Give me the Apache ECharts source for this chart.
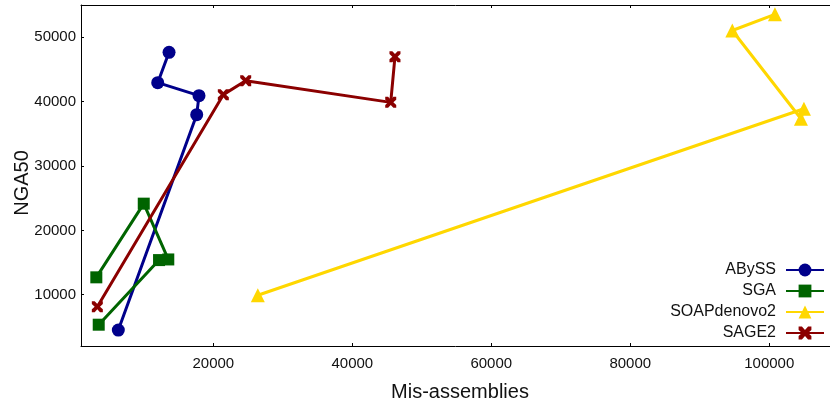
<!DOCTYPE html>
<html>
<head>
<meta charset="utf-8">
<script src="https://cdn.jsdelivr.net/npm/echarts@6/dist/echarts.min.js"></script>
<style>
html,body{margin:0;padding:0;background:#fff;}
#chart{width:830px;height:406px;}
</style>
</head>
<body>
<div id="chart"></div>
<script>
var seriesNames = ['ABySS', 'SGA', 'SOAPdenovo2', 'SAGE2'];
var abyssX = [6330, 17610, 17940, 12000, 13630];
var abyssY = [4510, 37980, 40930, 42950, 47670];
var sgaX = [3165, 9990, 13520, 12190, 3510];
var sgaY = [12700, 24150, 15480, 15380, 5340];
var soapX = [26400, 104990, 104560, 94680, 100820];
var soapY = [9920, 38900, 37350, 51060, 53570];
var sage2X = [3310, 21440, 24660, 45530, 46140];
var sage2Y = [8140, 41090, 43260, 39890, 46990];
var xTitle = 'Mis-assemblies';
var yTitle = 'NGA50';

function zip(xs, ys) { return xs.map(function (x, i) { return [x, ys[i]]; }); }

var FONT = 'Liberation Sans';
var colors = ['#00008B', '#006400', '#FFD700', '#8B0000'];
var xMark = 'path://M0,0 L2.6,0 L5,2.6 L7.4,0 L10,0 L10,2.6 L7.4,5 L10,7.4 L10,10 L7.4,10 L5,7.4 L2.6,10 L0,10 L0,7.4 L2.6,5 L0,2.6 Z';

var chart = echarts.init(document.getElementById('chart'), null, {renderer: 'canvas'});
var tickFmt = function (v) { return (Math.abs(v % 10000) < 1e-6) ? String(v) : ''; };

var option = {
  animation: false,
  backgroundColor: '#ffffff',
  grid: {left: 81, right: 0, top: 5, bottom: 60, containLabel: false},
  xAxis: [{
    type: 'value', min: 960, max: 108740, splitNumber: 5, position: 'bottom',
    axisLine: {show: true, lineStyle: {color: '#000', width: 1}},
    axisTick: {show: true, inside: true, length: 3, lineStyle: {color: '#000'}},
    axisLabel: {show: true, margin: 10, fontFamily: FONT, fontSize: 15, color: '#111',
      formatter: function (v) { return (Math.abs(v % 20000) < 1e-6 && v > 0) ? String(v) : ''; },
      showMinLabel: false, showMaxLabel: false},
    splitLine: {show: false}
  }, {
    type: 'value', min: 960, max: 108740, splitNumber: 5, position: 'top',
    axisLine: {show: true, lineStyle: {color: '#000', width: 1}},
    axisTick: {show: true, inside: true, length: 3, lineStyle: {color: '#000'}},
    axisLabel: {show: false},
    splitLine: {show: false}
  }],
  yAxis: [{
    type: 'value', min: 2030, max: 55020, splitNumber: 5,
    axisLine: {show: true, lineStyle: {color: '#000', width: 1}},
    axisTick: {show: true, inside: true, length: 3, lineStyle: {color: '#000'}},
    axisLabel: {show: true, margin: 5, fontFamily: FONT, fontSize: 15, color: '#111',
      formatter: tickFmt, showMinLabel: false, showMaxLabel: false},
    splitLine: {show: false}
  }],
  legend: {
    orient: 'vertical', right: 5, top: 262, align: 'right', padding: 0,
    itemWidth: 38, itemHeight: 16, itemGap: 5,
    textStyle: {fontFamily: FONT, fontSize: 16, color: '#111', padding: [0, 5, 0, 0]},
    data: seriesNames
  },
  graphic: [
    {type: 'text', style: {text: xTitle, font: '20px "Liberation Sans"', fill: '#111', x: 460, y: 392, textAlign: 'center', textVerticalAlign: 'middle'}},
    {type: 'text', x: 22, y: 183, rotation: Math.PI / 2, style: {text: yTitle, font: '20px "Liberation Sans"', fill: '#111', x: 0, y: 0, textAlign: 'center', textVerticalAlign: 'middle'}}
  ],
  series: [
    {name: seriesNames[0], type: 'line', data: zip(abyssX, abyssY), color: colors[0],
     lineStyle: {width: 3}, symbol: 'circle', symbolSize: 13, itemStyle: {color: colors[0]}, showAllSymbol: true},
    {name: seriesNames[1], type: 'line', data: zip(sgaX, sgaY), color: colors[1],
     lineStyle: {width: 3}, symbol: 'rect', symbolSize: 12, itemStyle: {color: colors[1]}, showAllSymbol: true},
    {name: seriesNames[2], type: 'line', data: zip(soapX, soapY), color: colors[2],
     lineStyle: {width: 3}, symbol: 'triangle', symbolSize: 14, itemStyle: {color: colors[2]}, showAllSymbol: true},
    {name: seriesNames[3], type: 'line', data: zip(sage2X, sage2Y), color: colors[3],
     lineStyle: {width: 3}, symbol: xMark, symbolSize: 11, itemStyle: {color: colors[3]}, showAllSymbol: true}
  ]
};
chart.setOption(option);
</script>
</body>
</html>
